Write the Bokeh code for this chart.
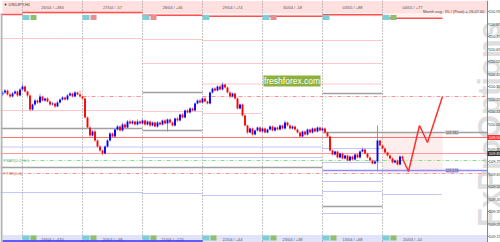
import math
from bokeh.plotting import figure
from bokeh.models import Range1d, ColumnDataSource
from bokeh.core.properties import value
from bokeh.embed import file_html
from bokeh.resources import INLINE

SYMBOL = "\u25bc USDJPY,H1"
FIRST_OPEN = 110.286
closes = [
    110.302, 110.318, 110.286, 110.270, 110.294, 110.310, 110.278, 110.326,
    110.350, 110.310, 110.278, 110.166, 110.206, 110.238, 110.222, 110.270,
    110.238, 110.254, 110.230, 110.206, 110.214, 110.190, 110.222, 110.246,
    110.262, 110.246, 110.278, 110.294, 110.270, 110.302, 110.286, 110.270,
    110.254, 110.102, 110.022, 109.958, 109.990, 109.918, 109.870, 109.838,
    109.814, 109.870, 109.918, 109.974, 109.950, 110.006, 110.030, 109.998,
    110.046, 110.022, 110.070, 110.054, 110.070, 110.046, 110.070, 110.054,
    110.078, 110.046, 110.070, 110.038, 110.062, 110.030, 110.062, 110.046,
    110.078, 110.054, 110.086, 110.062, 110.038, 110.094, 110.078, 110.126,
    110.102, 110.158, 110.142, 110.174, 110.158, 110.214, 110.238, 110.222,
    110.254, 110.230, 110.214, 110.302, 110.334, 110.318, 110.350, 110.326,
    110.366, 110.342, 110.302, 110.270, 110.294, 110.254, 110.174, 110.206,
    110.118, 110.038, 109.982, 110.014, 109.966, 109.998, 110.022, 109.990,
    110.014, 109.982, 110.006, 110.030, 109.998, 110.022, 110.006, 110.038,
    110.014, 110.062, 110.038, 110.014, 110.030, 110.006, 109.982, 109.950,
    109.990, 109.966, 110.006, 109.982, 110.014, 109.990, 110.022, 109.998,
    110.014, 109.982, 109.950, 109.838, 109.806, 109.830, 109.782, 109.814,
    109.774, 109.798, 109.758, 109.790, 109.766, 109.806, 109.782, 109.830,
    109.846, 109.814, 109.782, 109.758, 109.734, 109.750, 109.918, 109.878,
    109.854, 109.822, 109.798, 109.774, 109.742, 109.758, 109.726, 109.790,
    109.774]
highs = [
    110.318, 110.330, 110.326, 110.298, 110.306, 110.322, 110.318, 110.338,
    110.374, 110.358, 110.318, 110.286, 110.214, 110.250, 110.246, 110.290,
    110.278, 110.262, 110.266, 110.238, 110.226, 110.222, 110.234, 110.254,
    110.274, 110.270, 110.290, 110.306, 110.302, 110.314, 110.310, 110.318,
    110.278, 110.262, 110.110, 110.030, 110.002, 110.006, 109.926, 109.882,
    109.846, 109.878, 109.930, 109.986, 109.982, 110.018, 110.042, 110.038,
    110.062, 110.058, 110.082, 110.086, 110.082, 110.078, 110.086, 110.078,
    110.090, 110.086, 110.078, 110.078, 110.070, 110.070, 110.074, 110.070,
    110.086, 110.090, 110.094, 110.094, 110.070, 110.102, 110.106, 110.134,
    110.138, 110.166, 110.170, 110.186, 110.182, 110.222, 110.246, 110.250,
    110.262, 110.266, 110.238, 110.310, 110.342, 110.346, 110.358, 110.362,
    110.382, 110.374, 110.350, 110.310, 110.302, 110.302, 110.262, 110.214,
    110.214, 110.126, 110.046, 110.022, 110.022, 110.006, 110.030, 110.030,
    110.022, 110.022, 110.014, 110.038, 110.038, 110.030, 110.030, 110.046,
    110.046, 110.078, 110.070, 110.046, 110.038, 110.038, 110.014, 109.990,
    109.998, 109.998, 110.014, 110.014, 110.022, 110.022, 110.030, 110.030,
    110.022, 110.022, 109.990, 109.958, 109.846, 109.838, 109.838, 109.822,
    109.822, 109.806, 109.806, 109.798, 109.798, 109.814, 109.814, 109.838,
    109.862, 109.854, 109.822, 109.790, 109.766, 109.758, 110.038, 109.926,
    109.886, 109.862, 109.830, 109.806, 109.782, 109.766, 109.766, 109.798,
    109.798]
lows = [
    110.274, 110.290, 110.278, 110.258, 110.262, 110.286, 110.266, 110.270,
    110.318, 110.302, 110.262, 110.150, 110.154, 110.198, 110.210, 110.214,
    110.230, 110.226, 110.222, 110.194, 110.198, 110.178, 110.186, 110.214,
    110.238, 110.238, 110.238, 110.270, 110.262, 110.262, 110.278, 110.262,
    110.246, 110.094, 110.010, 109.946, 109.950, 109.906, 109.858, 109.826,
    109.798, 109.806, 109.862, 109.910, 109.938, 109.942, 109.998, 109.990,
    109.990, 110.010, 110.014, 110.046, 110.046, 110.038, 110.038, 110.046,
    110.046, 110.034, 110.038, 110.026, 110.030, 110.022, 110.022, 110.038,
    110.038, 110.046, 109.990, 110.054, 110.030, 110.030, 110.066, 110.070,
    110.094, 110.094, 110.134, 110.134, 110.150, 110.150, 110.206, 110.214,
    110.214, 110.222, 110.206, 110.206, 110.294, 110.310, 110.310, 110.318,
    110.318, 110.334, 110.294, 110.258, 110.262, 110.246, 110.166, 110.166,
    110.110, 110.030, 109.970, 109.974, 109.958, 109.958, 109.990, 109.982,
    109.982, 109.974, 109.974, 109.998, 109.990, 109.990, 109.998, 109.998,
    110.006, 110.006, 110.030, 110.006, 110.006, 109.998, 109.974, 109.942,
    109.942, 109.958, 109.958, 109.974, 109.974, 109.982, 109.982, 109.990,
    109.990, 109.974, 109.942, 109.830, 109.798, 109.798, 109.774, 109.774,
    109.766, 109.766, 109.750, 109.750, 109.758, 109.758, 109.774, 109.774,
    109.822, 109.806, 109.774, 109.750, 109.726, 109.726, 109.670, 109.870,
    109.846, 109.814, 109.790, 109.766, 109.734, 109.734, 109.718, 109.718,
    109.766]

forecast_hours = [160, 162.4, 166.8, 170, 176]
forecast_prices = [109.774, 109.670, 110.038, 109.902, 110.270]

day_edges = [-0.8, 8, 32, 56, 80, 104, 128, 152, 176, 194]
top_labels = ["26/04 / +384", "27/04 / -57", "28/04 / +46", "29/04 / +74",
              "30/04 / -18", "03/05 / +88", "04/05 / +77"]
bottom_labels = ["19/04 / +470", "20/04 / +38", "21/04 / +120", "22/04 / +44",
                 "23/04 / +38", "13/04 / +68", "20/03 / -10"]
axis_ticks = [110.95, 110.85, 110.75, 110.65, 110.55, 110.45, 110.35, 110.25,
              110.15, 110.05, 109.95, 109.85, 109.75, 109.65, 109.55, 109.45,
              109.35, 109.25, 109.15]

# level segments: (first day, last day, price)
lvl_top_red = [(0, 0, 110.926), (1, 2, 110.942), (3, 3, 110.920), (4, 5, 110.912),
               (6, 6, 110.924), (7, 7, 110.896)]
lvl_pink_dot = [(0, 2, 110.734), (3, 3, 110.726), (4, 6, 110.718), (3, 6, 110.534),
                (4, 6, 110.370), (0, 2, 110.158), (3, 3, 110.150), (4, 4, 110.134)]
lvl_grey = [(3, 3, 110.302), (6, 6, 110.294), (0, 2, 110.014), (3, 3, 109.998),
            (6, 8, 109.982), (0, 5, 109.702), (6, 6, 109.390)]
lvl_pink_dashdot = [(2, 2, 110.270), (4, 8, 110.270), (0, 8, 109.654)]
lvl_red = [(0, 8, 109.942)]
lvl_pink = [(0, 8, 109.814)]
lvl_green_dashdot = [(1, 8, 109.758)]
lvl_blue_dot = [(0, 5, 109.866), (6, 6, 109.854), (6, 6, 109.742), (3, 5, 109.782),
                (6, 6, 109.590), (0, 2, 109.502), (3, 3, 109.494), (4, 5, 109.478),
                (6, 6, 109.510), (7, 7, 109.486), (6, 6, 109.334)]
lvl_blue = [(6, 8, 109.678)]

# ---- pixel helpers (layout only) ----
Y_TOP, PPX = 111.038, 0.008
def py(pix):
    return Y_TOP - PPX * pix
def hx(pix):
    return pix / 2.5 - 0.8

FONT = value("Liberation Sans")

p = figure(width=500, height=242, x_range=Range1d(hx(0), hx(500)),
           y_range=Range1d(py(242), py(0)), output_backend="svg",
           toolbar_location=None, min_border=0, x_axis_location=None,
           y_axis_location=None, outline_line_color=None,
           background_fill_color="white")
p.grid.visible = False

# right axis background
p.quad(left=[day_edges[-1]], right=[hx(500)], top=[py(0)], bottom=[py(242)],
       fill_color="white", line_color=None)

# pink zone of the current day
p.quad(left=[day_edges[7]], right=[day_edges[8]], top=[py(132)], bottom=[py(173)],
       fill_color="#fdeeee", line_color=None)

# watermark
p.text(x=[hx(489)], y=[py(124)], text=["FxProOptions"], angle=math.pi / 2,
       text_align="center", text_baseline="alphabetic", text_font_size="31px",
       text_font_style="bold", text_color="#dedede", text_font=FONT)

# top and bottom strips
p.quad(left=[hx(2)], right=[day_edges[-1]], top=[py(0.5)], bottom=[py(13)],
       fill_color="#ffe0e0", line_color=None)
p.quad(left=[day_edges[3]], right=[day_edges[8]], top=[py(13)], bottom=[py(16)],
       fill_color="#fff0f0", line_color=None)
p.quad(left=[hx(2)], right=[day_edges[-1]], top=[py(234.5)], bottom=[py(242)],
       fill_color="#e2e2fa", line_color=None)

# separators
seps = day_edges[1:8]
p.segment(x0=seps, x1=seps, y0=[py(0)] * len(seps), y1=[py(242)] * len(seps),
          line_color="#8c8c8c", line_dash="1 2", line_width=1)


def segs(levels):
    return dict(x0=[day_edges[a] for a, b, v in levels],
                x1=[day_edges[b + 1] for a, b, v in levels],
                y=[v for a, b, v in levels])


def draw(levels, color, width=1, dash="solid", alpha=1.0):
    d = segs(levels)
    p.segment(x0=d["x0"], x1=d["x1"], y0=d["y"], y1=d["y"], line_color=color,
              line_width=width, line_dash=dash, line_alpha=alpha)


draw(lvl_pink_dot, "#ff8f8f", 1, "1 1")
draw(lvl_blue_dot, "#8c8cff", 1, "1 1")
draw(lvl_pink_dashdot, "#ff9090", 1, "4 2 1 2")
draw(lvl_green_dashdot, "#88dd88", 1, "4 2 1 2")
draw(lvl_grey, "#a0a0a0", 1.5)
draw(lvl_red, "#ff7070", 1.2)
draw(lvl_pink, "#ff9a9a", 1.2)
draw(lvl_blue, "#8c8cff", 1.5)
draw(lvl_top_red, "#ff5050", 1.5)

# candles
n = len(closes)
hours = list(range(n))
opens = [FIRST_OPEN] + closes[:-1]
up = [c >= o for o, c in zip(opens, closes)]
body_top = [max(o, c) + (0.002 if abs(o - c) < 0.002 else 0) for o, c in zip(opens, closes)]
body_bot = [min(o, c) for o, c in zip(opens, closes)]
src = ColumnDataSource(dict(
    x=hours, hi=highs, lo=lows, top=body_top, bot=body_bot,
    body=["#0000ff" if u else "#ff0000" for u in up],
    wick=["#8c8cff" if u else "#ff8c8c" for u in up]))
p.segment(x0="x", x1="x", y0="lo", y1="hi", line_color="wick", line_width=1, source=src)
p.vbar(x="x", width=0.75, top="top", bottom="bot", fill_color="body",
       line_color=None, source=src)

# forecast
p.line(forecast_hours, forecast_prices, line_color="#ff3030", line_width=1.5)

# day label boxes (top / bottom)
box_colors = ["#8fbf6a", "#e89090", "#e89090", None, "#e89090", None, "#8fbf6a"]
for i, d in enumerate(day_edges[1:8]):
    for (yt, yb) in [(14.5, 19.5), (235, 240)]:
        p.quad(left=[d], right=[d + 2.8], top=[py(yt)], bottom=[py(yb)],
               fill_color="#7ccfd6", line_color=None)
        c2 = box_colors[i] if yt < 100 else "#8fbf6a"
        if c2:
            p.quad(left=[d + 3.2], right=[d + 5.6], top=[py(yt)], bottom=[py(yb)],
                   fill_color=c2, line_color=None)

mids = [(day_edges[i] + day_edges[i + 1]) / 2 for i in range(1, 8)]
p.text(x=mids, y=[py(7)] * 7, text=top_labels, text_font_size="4px",
       text_align="center", text_baseline="middle", text_color="#555555", text_font=FONT)
p.text(x=mids, y=[py(238.5)] * 7, text=bottom_labels, text_font_size="4px",
       text_align="center", text_baseline="middle", text_color="#555555", text_font=FONT)

# bottom blue line
p.segment(x0=[hx(2)], x1=[day_edges[4]], y0=[py(240.5)], y1=[py(240.5)],
          line_color="#3030ff", line_width=1.5)

# freshforex badge
p.quad(left=[hx(263)], right=[hx(320)], top=[py(75)], bottom=[py(86)],
       fill_color="#8db13c", line_color=None)
p.text(x=[hx(291.5)], y=[py(80.7)], text=["freshforex.com"], text_font_size="8.5px",
       text_align="center", text_baseline="middle", text_color="white", text_font=FONT)

# small texts
p.text(x=[hx(3)], y=[py(4)], text=[SYMBOL], text_font_size="4px", text_baseline="middle",
       text_color="#333333", text_font=FONT)
p.text(x=[hx(3)], y=[py(159.5)], text=["FSAR(0.0) 0.0"], text_font_size="4px",
       text_baseline="middle", text_color="#66aa66", text_font=FONT)
p.text(x=[hx(3)], y=[py(172.5)], text=["FTSR(0.0)"], text_font_size="4px",
       text_baseline="middle", text_color="#cc6666", text_font=FONT)
p.text(x=[hx(484)], y=[py(11)], text=["Month avg.: 95 / (Pivot) = 26.07.60"],
       text_font_size="4px", text_align="right", text_baseline="middle",
       text_color="#444444", text_font=FONT)

# in-chart price tags
tag_prices = [109.982, 109.678]
p.quad(left=[hx(445)] * 2, right=[hx(458)] * 2, top=[v + 0.018 for v in tag_prices],
       bottom=[v - 0.018 for v in tag_prices], fill_color=["#d4d4d4", "#b9b9ff"],
       line_color=None)
p.text(x=[hx(451.5)] * 2, y=tag_prices, text=["%.3f" % v for v in tag_prices],
       text_font_size="3.5px", text_align="center", text_baseline="middle",
       text_color="#333333", text_font=FONT)

# right axis line, ticks and labels
p.segment(x0=[day_edges[-1]], x1=[day_edges[-1]], y0=[py(0)], y1=[py(242)],
          line_color="#888888", line_width=1)
p.segment(x0=[day_edges[-1]] * len(axis_ticks), x1=[hx(488.5)] * len(axis_ticks),
          y0=axis_ticks, y1=axis_ticks, line_color="#888888")
p.text(x=[hx(488.3)] * len(axis_ticks), y=axis_ticks,
       text=["%.2f" % v for v in axis_ticks], text_font_size="4px",
       text_baseline="middle", text_color="#333333", text_font=FONT)
axis_tags = [109.942, 109.814]
p.quad(left=[day_edges[-1]] * 2, right=[hx(500)] * 2, top=[v + 0.02 for v in axis_tags],
       bottom=[v - 0.02 for v in axis_tags], fill_color=["#ff3030", "#333333"], line_color=None)
p.text(x=[hx(488.3)] * 2, y=axis_tags, text=["%.2f" % v for v in axis_tags],
       text_font_size="4px", text_baseline="middle", text_color="white", text_font=FONT)

# left border
p.quad(left=[hx(0)], right=[hx(2)], top=[py(13)], bottom=[py(242)],
       fill_color="#b4b4b4", line_color=None)

open("out.html", "w").write(file_html(p, INLINE))
